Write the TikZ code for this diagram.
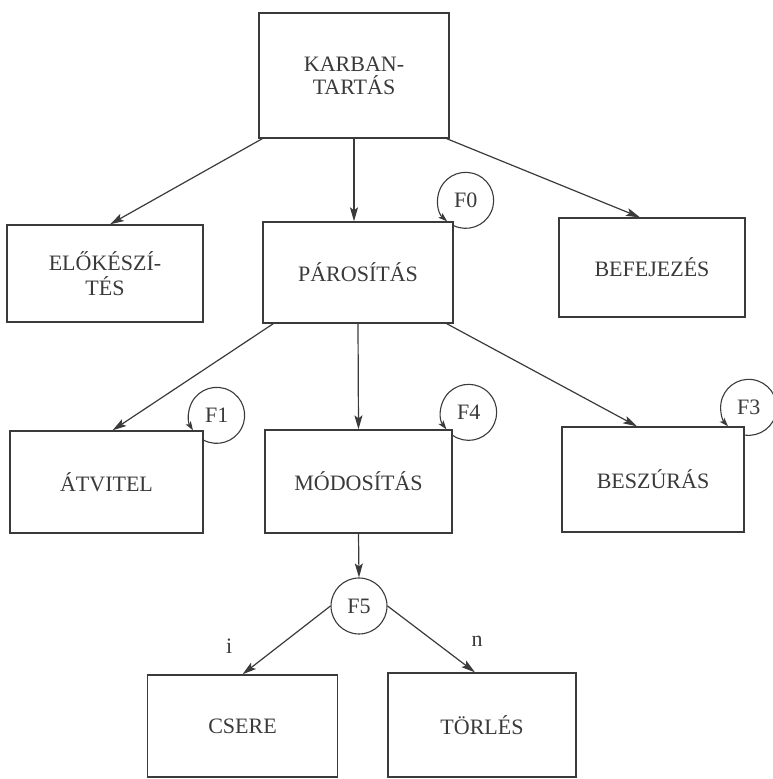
\documentclass[tikz,border=0pt]{standalone}
\usepackage{tikz}
\usetikzlibrary{arrows.meta}
\usepackage{fontspec}
\setmainfont{Liberation Serif}
\usepackage{xcolor}
\definecolor{inkGray}{RGB}{58,58,58}

\begin{document}
\begin{tikzpicture}[x=1pt, y=1pt,
    every node/.style={text=inkGray, font=\fontsize{22}{23}\selectfont},
    box/.style={draw=inkGray, line width=1.3pt, fill=white, align=center,
        inner sep=0pt, minimum width=190pt, minimum height=101pt},
    arr/.style={draw=inkGray, line width=1.2pt,
        -{Stealth[length=14pt, width=8pt, inset=3pt]}},
    backarr/.style={draw=inkGray, line width=1.1pt,
        -{Stealth[length=9pt, width=6pt, inset=2pt]}},
    fcircle/.style={circle, draw=inkGray, line width=1.1pt, fill=white,
        minimum size=56pt, inner sep=0pt}]
    \newcommand\rloop{28}
    % F-mark: circle at the top right corner of a box, arrow back onto the box
    \newcommand\fmark[5]{%
        \node (#1) at ([shift={(#3,#4)}]#2.north east) {#5};
        \pgfmathsetmacro\angA{180+acos(#3/\rloop)}
        \pgfmathsetmacro\angB{540+asin(#4/\rloop)}
        \draw[backarr] (#1.center) ++(\angA:\rloop)
            arc[start angle=\angA, end angle=\angB, radius=\rloop];
    }

    \useasboundingbox (0,0) rectangle (772,779);

    % level 0
    \node[box, minimum height=125pt] (karb) at (354,703.5) {KARBAN-\\TARTÁS};

    % level 1
    \node[box, minimum width=196pt, minimum height=97pt, font=\fontsize{22}{25}\selectfont]
        (elok) at (105,505.5) {ELŐKÉSZÍ-\\TÉS};
    \node[box] (paros) at (358,506.5) {PÁROSÍTÁS};
    \node[box, minimum width=186pt, minimum height=99pt] (befej) at (652,511.5) {BEFEJEZÉS};

    % level 2
    \node[box, minimum width=193pt, minimum height=102pt] (atvit) at (106.5,297) {ÁTVITEL};
    \node[box, minimum width=187pt, minimum height=103pt] (modos) at (358.5,297.5) {MÓDOSÍTÁS};
    \node[box, minimum width=182pt, minimum height=105pt] (beszu) at (653,299.5) {BESZÚRÁS};

    % decision and level 3
    \node[fcircle] (f5) at (359,173) {F5};
    \node[box, minimum height=102pt] (csere) at (242.5,53) {CSERE};
    \node[box, minimum width=188pt, minimum height=104pt] (torles) at (482,54) {TÖRLÉS};

    % draw arrow
    \draw[arr] ([xshift=4]karb.south west) -- ([xshift=5]elok.north);
    \draw[arr] (karb.south) -- (karb.south |- paros.north);
    \draw[arr] ([xshift=-3]karb.south east) -- ([xshift=-12]befej.north);

    \draw[arr] ([xshift=11]paros.south west) -- ([xshift=6]atvit.north);
    \draw[arr] (paros.south) -- (modos.north);
    \draw[arr] ([xshift=-7]paros.south east) -- ([xshift=-16]beszu.north);

    \draw[arr] (modos.south) -- (f5.north);
    \draw[arr] (f5.west) -- node[pos=0.72, xshift=-38, yshift=9] {i} (csere.north);
    \draw[arr] (f5.east) -- node[pos=0.75, xshift=24, yshift=14] {n} ([xshift=-7]torles.north);

    % loops back onto the boxes
    \fmark{f0}{paros}{12}{21}{F0}
    \fmark{f1}{atvit}{13}{15}{F1}
    \fmark{f4}{modos}{16}{17}{F4}
    \fmark{f3}{beszu}{4}{19}{F3}
\end{tikzpicture}
\end{document}
